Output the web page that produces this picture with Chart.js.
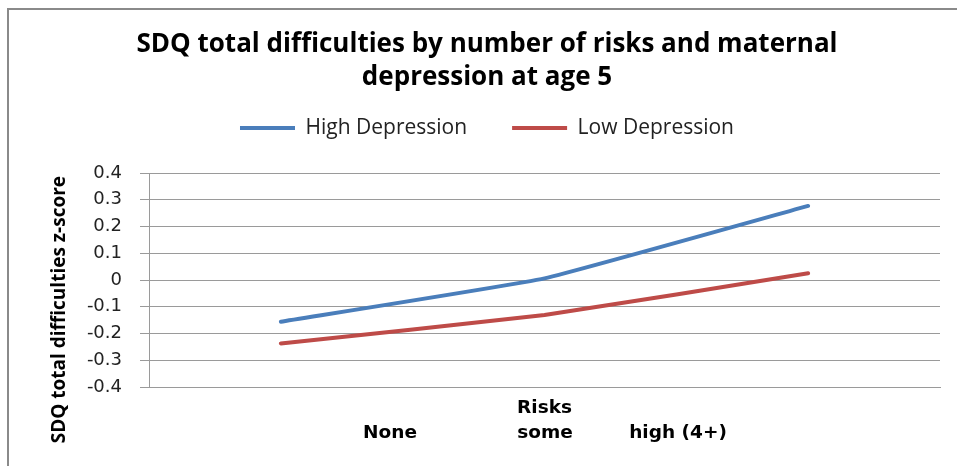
<!DOCTYPE html>
<html>
<head>
<meta charset="utf-8">
<script src="https://cdn.jsdelivr.net/npm/chart.js@4.4.1/dist/chart.umd.min.js"></script>
<style>
  html, body { margin: 0; padding: 0; background: #fff; }
  #wrap { width: 957px; height: 466px; position: relative; }
</style>
</head>
<body>
<div id="wrap"><canvas id="chart"></canvas></div>
<script>
// Risk groups along the x axis
const riskGroups = ['None', 'some', 'high (4+)'];
// Mean SDQ total difficulties z-score per risk group
const highDepression = [-0.156, 0.006, 0.277];
const lowDepression = [-0.237, -0.131, 0.025];
// Value axis tick labels, bottom to top
const yTickLabels = ['-0.4', '-0.3', '-0.2', '-0.1', '0', '0.1', '0.2', '0.3', '0.4'];

const titleLines = ['SDQ total difficulties by number of risks and maternal', 'depression at age 5'];

// Grey frame on the left and top edges of the figure
const framePlugin = {
  id: 'frame',
  beforeDraw(chart) {
    const ctx = chart.ctx;
    ctx.save();
    ctx.fillStyle = '#ffffff';
    ctx.fillRect(0, 0, chart.width, chart.height);
    ctx.strokeStyle = '#8a8a8a';
    ctx.lineWidth = 2;
    ctx.beginPath();
    ctx.moveTo(8, chart.height + 2);
    ctx.lineTo(8, 9);
    ctx.lineTo(chart.width + 2, 9);
    ctx.stroke();
    ctx.restore();
  }
};

// Category names written in a row under the axis title
const groupLabelsPlugin = {
  id: 'groupLabels',
  afterDraw(chart) {
    const { ctx, chartArea } = chart;
    const spots = [0.3047, 0.5006, 0.6688];
    const w = chartArea.right - chartArea.left;
    ctx.save();
    ctx.font = 'bold 18.5px "DejaVu Sans"';
    ctx.fillStyle = '#000';
    ctx.textAlign = 'center';
    ctx.textBaseline = 'middle';
    riskGroups.forEach((label, i) => {
      ctx.fillText(label, chartArea.left + spots[i] * w, chartArea.bottom + 46);
    });
    ctx.restore();
  }
};

new Chart(document.getElementById('chart'), {
  type: 'line',
  data: {
    labels: riskGroups,
    datasets: [
      {
        label: 'High Depression',
        data: highDepression,
        borderColor: '#4a7ebb',
        backgroundColor: '#4a7ebb',
        borderWidth: 4,
        pointRadius: 0,
        tension: 0.1,
        borderCapStyle: 'round'
      },
      {
        label: 'Low Depression',
        data: lowDepression,
        borderColor: '#be4b48',
        backgroundColor: '#be4b48',
        borderWidth: 4,
        pointRadius: 0,
        tension: 0.1,
        borderCapStyle: 'round'
      }
    ]
  },
  options: {
    responsive: true,
    maintainAspectRatio: false,
    animation: false,
    layout: { padding: { left: 34, right: 17, top: 0, bottom: 0 } },
    plugins: {
      title: {
        display: true,
        text: titleLines,
        color: '#000',
        font: { family: 'Open Sans', size: 26, weight: 'bold', lineHeight: 1.27 },
        padding: { top: 28.5, bottom: -22 }
      },
      subtitle: {
        display: true,
        text: '',
        weight: 500,
        font: { size: 1, lineHeight: 1 },
        padding: { top: 23.5, bottom: 0 }
      },
      legend: {
        display: true,
        position: 'top',
        labels: {
          usePointStyle: true,
          pointStyle: 'line',
          pointStyleWidth: 55,
          padding: 45,
          color: '#222',
          font: { family: 'Open Sans', size: 21 }
        }
      },
      tooltip: { enabled: false }
    },
    scales: {
      x: {
        type: 'category',
        offset: true,
        grid: { display: false },
        border: { display: true, color: '#9a9a9a', width: 1 },
        ticks: { display: false },
        title: {
          display: true,
          text: 'Risks',
          color: '#000',
          font: { family: 'DejaVu Sans', size: 18.5, weight: 'bold', lineHeight: 1.2 },
          padding: { top: 0, bottom: 47 }
        },
        afterFit(scale) { scale.height = 79; }
      },
      y: {
        min: -0.4,
        max: 0.4,
        grid: {
          color: '#9a9a9a',
          lineWidth: 1,
          drawTicks: true,
          tickLength: 9,
          tickColor: '#9a9a9a'
        },
        border: { display: true, color: '#9a9a9a', width: 1 },
        ticks: {
          stepSize: 0.1,
          padding: 18,
          color: '#222',
          font: { family: 'DejaVu Sans', size: 18 },
          callback: (value, index) => yTickLabels[index]
        },
        title: {
          display: true,
          text: 'SDQ total difficulties z-score            ',
          color: '#000',
          font: { family: 'Open Sans', size: 19, weight: 'bold', lineHeight: 1.2 },
          padding: { top: 14.6, bottom: 0 }
        },
        afterFit(scale) { scale.width = 115; }
      }
    }
  },
  plugins: [framePlugin, groupLabelsPlugin]
});
</script>
</body>
</html>
